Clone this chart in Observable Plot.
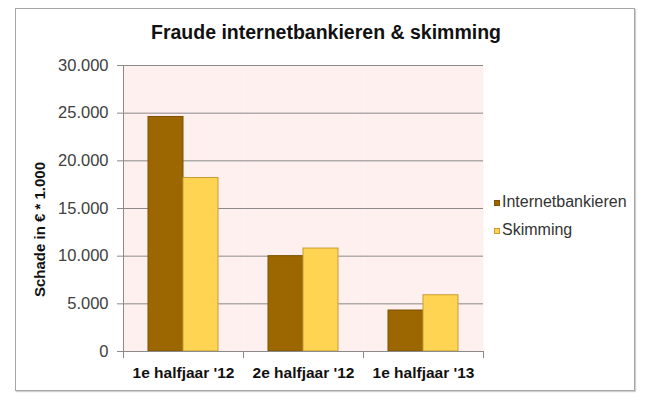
<!DOCTYPE html>
<html>
<head>
<meta charset="utf-8">
<script src="https://cdn.jsdelivr.net/npm/d3@7"></script>
<script src="https://cdn.jsdelivr.net/npm/@observablehq/plot@0.6"></script>
<style>
  html, body { margin: 0; padding: 0; background: #ffffff; }
  #wrap { position: relative; width: 647px; height: 401px; overflow: hidden;
          font-family: "Liberation Sans", Arial, sans-serif; }
  #border { position: absolute; left: 15px; top: 8px; width: 620px; height: 383px;
            box-sizing: border-box; border: 1px solid #a6a6a6; box-shadow: 1px 1px 1px #d0d0d0; }
  #chart { position: absolute; left: 0; top: 0; }
  #title { position: absolute; left: 0; width: 652px; top: 23px; text-align: center;
           font-weight: bold; font-size: 19.5px; line-height: 19.5px; color: #111; }
  #ylabel { position: absolute; left: -61.5px; width: 200px; top: 221.5px; text-align: center;
            font-weight: bold; font-size: 15px; line-height: 15px; color: #111;
            transform: rotate(-90deg); transform-origin: 100px 7.5px; white-space: nowrap; }
  .leg { position: absolute; left: 494px; font-size: 16px; line-height: 16px; color: #333; white-space: nowrap; }
  .leg .sw { position: absolute; left: 0; top: 6px; width: 6px; height: 6px; box-sizing: border-box; border: 1px solid; }
  .leg .lb { position: absolute; left: 8px; top: 0; }
</style>
</head>
<body>
<div id="wrap">
  <div id="border"></div>
  <div id="chart"></div>
  <div id="title"></div>
  <div id="ylabel"></div>
  <div id="legend"></div>
</div>
<script>
const chartTitle = "Fraude internetbankieren & skimming";
const yTitle = "Schade in € * 1.000";
const periods = ["1e halfjaar '12", "2e halfjaar '12", "1e halfjaar '13"];
const seriesNames = ["Internetbankieren", "Skimming"];
const internetbankieren = [24600, 10000, 4300];
const skimming = [18200, 10800, 5900];
const yTicks = [0, 5000, 10000, 15000, 20000, 25000, 30000];
const fills = ["#9c6600", "#fed452"];
const outlines = ["#7d5200", "#c99d33"];

const data = periods.flatMap((p, i) => [
  {period: p, series: seriesNames[0], value: internetbankieren[i]},
  {period: p, series: seriesNames[1], value: skimming[i]}
]);

const nl = d3.formatLocale({decimal: ",", thousands: ".", grouping: [3], currency: ["€", ""]});
const fmt = nl.format(",d");

const grey = "#8a8a8a";
const plotH = 401 - 65 - 50;

const chart = Plot.plot({
  width: 647,
  height: 401,
  marginLeft: 122,
  marginRight: 163,
  marginTop: 65,
  marginBottom: 50,
  style: {fontFamily: "'Liberation Sans', Arial, sans-serif", background: "transparent", overflow: "visible"},
  fx: {domain: periods, padding: 0, label: null, axis: null},
  x: {domain: seriesNames, paddingInner: 0, paddingOuter: 0.71, axis: null},
  y: {domain: [0, 30000], label: null, axis: null},
  marks: [
    Plot.frame({fill: "#fdf0ef", stroke: "none"}),
    Plot.gridY(yTicks.filter(d => d > 0), {stroke: grey, strokeOpacity: 1}),
    ...seriesNames.map((s, k) => Plot.barY(data.filter(d => d.series === s), {
      fx: "period", x: "series", y: "value",
      fill: fills[k], stroke: outlines[k], strokeWidth: 1
    })),
    Plot.ruleY([0], {stroke: grey}),
    Plot.frame({anchor: "left", facet: "super", stroke: grey}),
    Plot.frame({anchor: "left", stroke: grey, insetTop: plotH, insetBottom: -6}),
    Plot.frame({anchor: "right", stroke: grey, insetTop: plotH, insetBottom: -6}),
    Plot.axisY(yTicks, {
      tickFormat: fmt, tickSize: 6, tickPadding: 9, fontSize: 16.5,
      fill: "#404040", stroke: grey, label: null
    }),
    Plot.axisFx({
      anchor: "bottom", tickSize: 0, tickPadding: 15, fontSize: 15.5,
      fontWeight: "bold", fill: "#111", label: null
    })
  ]
});
document.getElementById("chart").appendChild(chart);

document.getElementById("title").textContent = chartTitle;
document.getElementById("ylabel").textContent = yTitle;

const legendTops = [193.5, 222];
const legend = document.getElementById("legend");
seriesNames.forEach((s, k) => {
  const item = document.createElement("div");
  item.className = "leg";
  item.style.top = legendTops[k] + "px";
  const sw = document.createElement("span");
  sw.className = "sw";
  sw.style.background = fills[k];
  sw.style.borderColor = outlines[k];
  const lb = document.createElement("span");
  lb.className = "lb";
  lb.textContent = s;
  item.appendChild(sw);
  item.appendChild(lb);
  legend.appendChild(item);
});
</script>
</body>
</html>
